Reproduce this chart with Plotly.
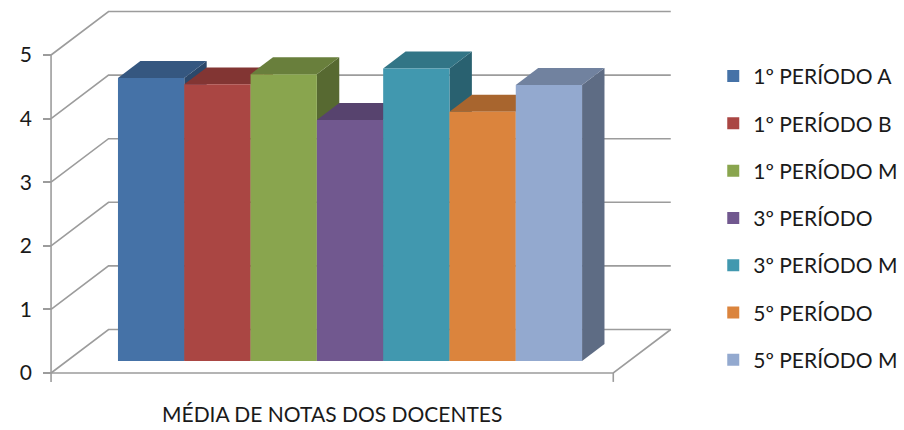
import plotly.graph_objects as go

# Series and their mean scores
series = ["1º PERÍODO A", "1º PERÍODO B", "1º PERÍODO M", "3º PERÍODO",
          "3º PERÍODO M", "5º PERÍODO", "5º PERÍODO M"]
values = [4.45, 4.35, 4.51, 3.79, 4.60, 3.92, 4.34]
colors = ["#4572A7", "#AA4643", "#89A54E", "#71588F", "#4198AF", "#DB843D", "#93A9CF"]
y_ticks = [0, 1, 2, 3, 4, 5]
category_label = "MÉDIA DE NOTAS DOS DOCENTES"

# Oblique "3-D" geometry, in data units
DX, DV = 0.867, 0.684          # full depth of the chart box (x units, value units)
T_FRONT, T_BACK = 0.276, 0.666  # depth span occupied by the columns
FLOOR_L, FLOOR_R = -1.27, 7.21  # floor extent along the category axis
GRID = "#9c9c9c"
FONT = "Lato"
TEXT = "#1a1a1a"
FS = 21


def shade(hex_color, k):
    r, g, b = (int(hex_color[i:i + 2], 16) for i in (1, 3, 5))
    return "rgb({},{},{})".format(int(r * k), int(g * k), int(b * k))


def poly(pts):
    return "M" + " L".join("{:.4f},{:.4f}".format(x, y) for x, y in pts) + " Z"


shapes = []

# Side wall + back wall gridlines
for v in y_ticks:
    shapes.append(dict(type="path", layer="below", xref="x", yref="y",
                       path="M{},{} L{},{} L{},{}".format(
                           FLOOR_L, v, FLOOR_L + DX, v + DV, FLOOR_R + DX, v + DV),
                       line=dict(color=GRID, width=1.6)))

# Floor front edge and right edge
shapes.append(dict(type="path", layer="below", xref="x", yref="y",
                   path="M{},0 L{},0 L{},{}".format(FLOOR_L, FLOOR_R, FLOOR_R + DX, DV),
                   line=dict(color=GRID, width=1.6)))
# Front value axis line and category-axis tick marks
shapes.append(dict(type="line", layer="below", xref="x", yref="y",
                   x0=FLOOR_L, x1=FLOOR_L, y0=-0.14, y1=max(y_ticks),
                   line=dict(color=GRID, width=1.6)))
shapes.append(dict(type="line", layer="below", xref="x", yref="y",
                   x0=FLOOR_R, x1=FLOOR_R, y0=-0.14, y1=0,
                   line=dict(color=GRID, width=1.6)))

# Top and side faces of each column
ddx = (T_BACK - T_FRONT) * DX
ddv = (T_BACK - T_FRONT) * DV
for i, (v, c) in enumerate(zip(values, colors)):
    x0 = i - 0.5 + T_FRONT * DX
    x1 = i + 0.5 + T_FRONT * DX
    b = T_FRONT * DV
    top = v + b
    shapes.append(dict(type="path", layer="below", xref="x", yref="y",
                       path=poly([(x1, b), (x1, top), (x1 + ddx, top + ddv), (x1 + ddx, b + ddv)]),
                       fillcolor=shade(c, 0.64), line=dict(width=0)))
    shapes.append(dict(type="path", layer="below", xref="x", yref="y",
                       path=poly([(x0, top), (x1, top), (x1 + ddx, top + ddv), (x0 + ddx, top + ddv)]),
                       fillcolor=shade(c, 0.77), line=dict(width=0)))

fig = go.Figure()
for i, (name, v, c) in enumerate(zip(series, values, colors)):
    fig.add_trace(go.Bar(
        x=[i + T_FRONT * DX], y=[v], base=[T_FRONT * DV], width=[1],
        name=name, legendgroup=name, marker=dict(color=c, line=dict(width=0)),
        hovertemplate=name + ": %{y}<extra></extra>"))

x_lo, x_hi = -2.040, 11.595
y_lo, y_hi = -0.896, 5.865

fig.update_layout(
    width=904, height=430,
    margin=dict(l=0, r=0, t=0, b=0),
    paper_bgcolor="white", plot_bgcolor="white",
    barmode="overlay",
    font=dict(family=FONT, size=FS, color=TEXT),
    xaxis=dict(range=[x_lo, x_hi], visible=False, fixedrange=True),
    yaxis=dict(range=[y_lo, y_hi], showgrid=False, zeroline=False, showline=False,
               tickvals=y_ticks, ticks="outside", ticklen=8, tickwidth=1.6,
               tickcolor=GRID, anchor="free",
               position=(FLOOR_L - x_lo) / (x_hi - x_lo),
               ticklabelstandoff=7,
               tickfont=dict(family=FONT, size=FS, color=TEXT),
               fixedrange=True),
    shapes=shapes,
    showlegend=True,
    legend=dict(x=0.789, y=0.87, xanchor="left", yanchor="top",
                tracegroupgap=17, bgcolor="rgba(0,0,0,0)",
                font=dict(family=FONT, size=FS, color=TEXT)),
    annotations=[dict(text=category_label, xref="x", yref="paper",
                      x=(FLOOR_L + FLOOR_R) / 2, y=1 - 413 / 430,
                      xanchor="center", yanchor="middle", showarrow=False,
                      font=dict(family=FONT, size=FS, color=TEXT))],
)

fig.write_html("out.html")
